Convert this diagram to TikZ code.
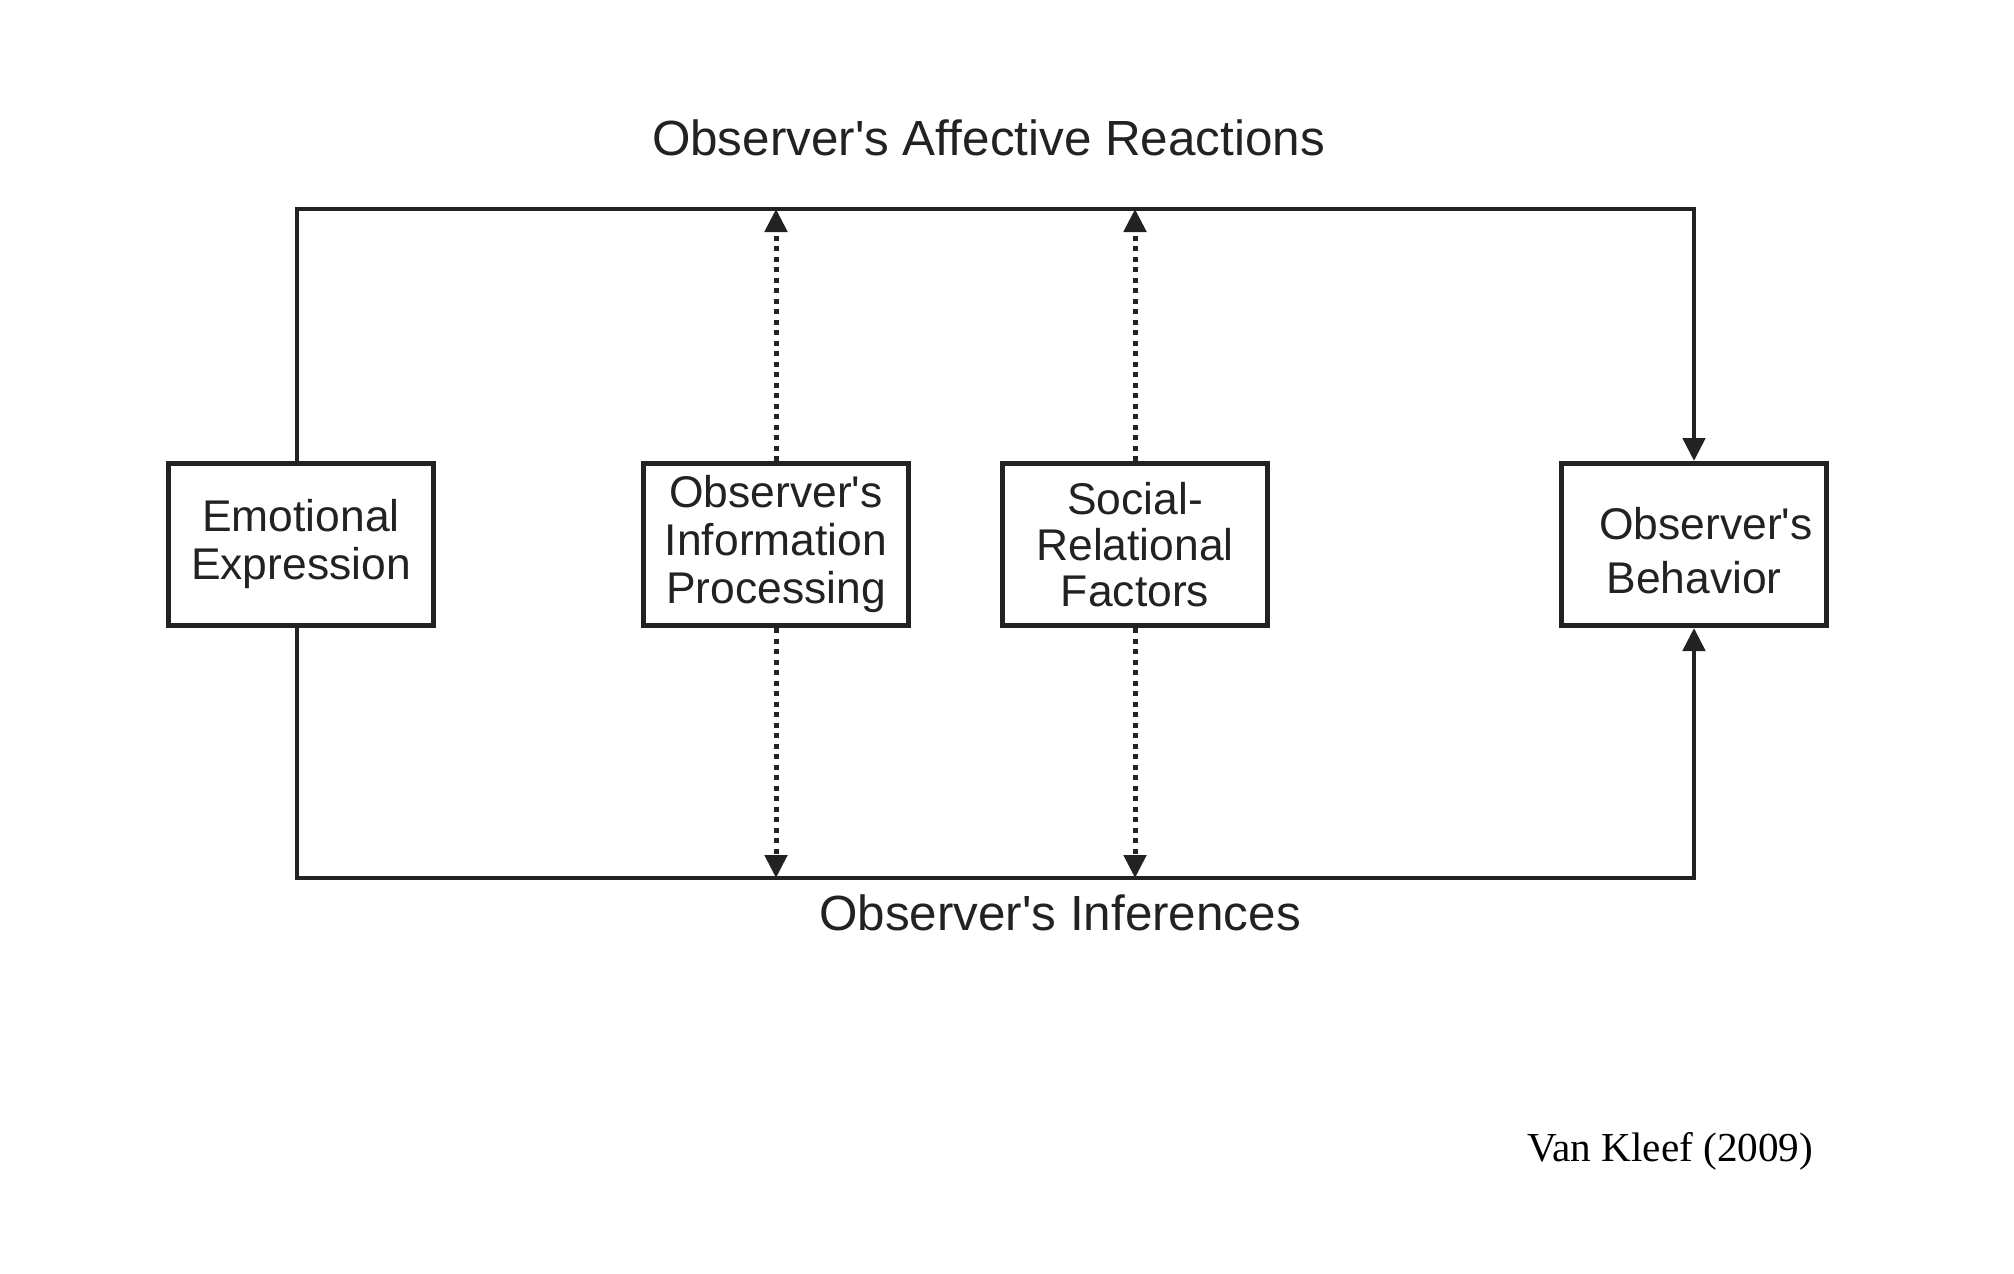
\documentclass[tikz,border=0pt]{standalone}
\usepackage{fontspec}
\setmainfont{Liberation Sans}
\newfontfamily\citefont{Liberation Serif}
\usetikzlibrary{arrows.meta}
\definecolor{ink}{HTML}{222222}
\newcommand\ap{\textquotesingle}
\tikzset{
  boxnode/.style={draw=ink, line width=5pt, minimum width=265pt, minimum height=162pt,
    inner sep=0pt, align=center, text=ink, font=\fontsize{44.4}{48}\selectfont},
  solidarrow/.style={draw=ink, line width=4.8pt, -{Triangle[length=23pt,width=22pt]}},
  dotarrow/.style={draw=ink, line width=5pt, dash pattern=on 5pt off 5.5pt,
    -{Triangle[length=23pt,width=22pt]}},
  labeltext/.style={text=ink, inner sep=0pt, font=\fontsize{49.4}{55}\selectfont}
}
\begin{document}
\begin{tikzpicture}[x=1pt,y=1pt]
\useasboundingbox[fill=white] (0,0) rectangle (2014,-1274);
% boxes
\node[boxnode] (E) at (301,-544.5) {Emotional\\Expression};
\node[boxnode] (I) at (776,-544.5) {Observer\ap s\\Information\\Processing};
\node[boxnode, font=\fontsize{44.4}{46}\selectfont] (S) at (1135,-544.5) {Social-\\Relational\\Factors};
\node[boxnode, font=\fontsize{44.4}{54}\selectfont] (B) at (1694,-544.5) {\rule{0pt}{45pt}\hspace*{24pt}Observer\ap s\\Behavior};
% frame corner references
\coordinate (tl) at (297,-209);
\coordinate (bl) at (297,-878);
% top path: Emotional -> Behavior
\draw[solidarrow] (E.north -| tl) -- (tl) -| (B.north);
% bottom path: Emotional -> Behavior
\draw[solidarrow] (E.south -| bl) -- (bl) -| (B.south);
% dotted arrows
\draw[dotarrow] (I.north) -- (I.north |- tl);
\draw[dotarrow] (I.south) -- (I.south |- bl);
\draw[dotarrow] (S.north) -- (S.north |- tl);
\draw[dotarrow] (S.south) -- (S.south |- bl);
% labels
\node[labeltext, anchor=base] (top) at (988.5,-155) {Observer\ap s Affective Reactions};
\node[labeltext, anchor=base] (bot) at (1060,-930) {Observer\ap s Inferences};
\node[anchor=base west, inner sep=0pt, font=\citefont\fontsize{41.2}{45}\selectfont] (cite) at (1527,-1161) {Van Kleef (2009)};
\end{tikzpicture}
\end{document}
